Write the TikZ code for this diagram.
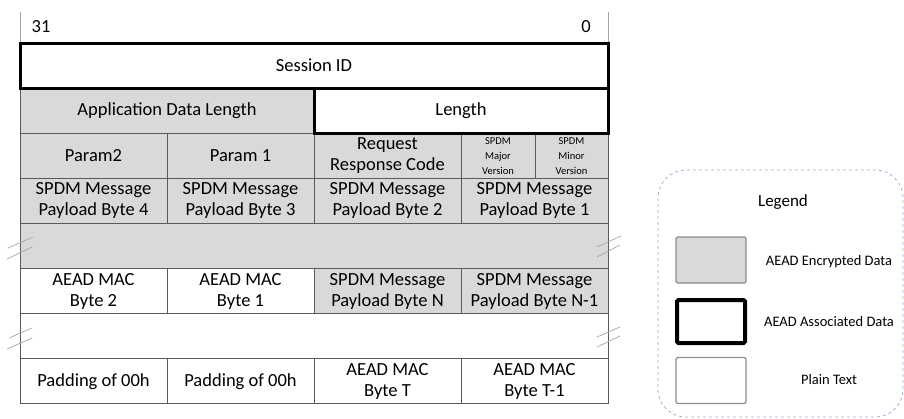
\documentclass[tikz,border=0pt]{standalone}
\usepackage{fontspec}
\setmainfont{Carlito}
\usetikzlibrary{positioning}
\definecolor{encgray}{HTML}{D9D9D9}
\definecolor{cellline}{HTML}{5A5A5A}
\definecolor{breakline}{HTML}{A6A6A6}
\definecolor{keyline}{HTML}{8C8C8C}
\definecolor{legendline}{HTML}{9DB0CF}
\tikzset{every node/.style={font=\fontsize{18.5}{21}\selectfont},
  cell/.style={draw=cellline,line width=1pt,minimum height=45.1pt,minimum width=147pt,inner sep=0pt,align=center},
  enc/.style={cell,fill=encgray},
  assoc/.style={cell,draw=black,line width=3pt},
  tiny/.style={font=\fontsize{10.5}{15}\selectfont},
  breakmark/.style={draw=breakline,line width=.7pt},
  keybox/.style={draw=keyline,line width=1.2pt,minimum width=70pt,minimum height=46pt,inner sep=0pt,rounded corners=1.5pt},
  keytext/.style={font=\fontsize{14.5}{16}\selectfont}}

\begin{document}
\begin{tikzpicture}[x=1pt,y=-1pt]
\useasboundingbox (0,0) rectangle (904,418);
% bit numbers
\draw[breakline,line width=.6pt] (20,12)--(20,43);\draw[breakline,line width=.6pt] (608,12)--(608,43);
\node (msb) at (41,27) {31};\node (lsb) at (586,27) {0};
% header
\node[enc,minimum width=294pt] (adl) at (167,110.69) {Application Data Length};
\node[enc] (p2) at (93.5,155.81) {Param2};
\node[enc] (p1) at (240.5,155.81) {Param 1};
\node[enc] (rrc) at (387.5,155.81) {Request\\Response Code};
\node[enc,tiny,minimum width=74pt] (maj) at (498,155.81) {SPDM\\Major\\Version};
\node[enc,tiny,minimum width=73pt] (mnr) at (571.5,155.81) {SPDM\\Minor\\Version};
% payload
\node[enc] (pb4) at (93.5,200.94) {SPDM Message\\Payload Byte 4};
\node[enc] (pb3) at (240.5,200.94) {SPDM Message\\Payload Byte 3};
\node[enc] (pb2) at (387.5,200.94) {SPDM Message\\Payload Byte 2};
\node[enc] (pb1) at (534.5,200.94) {SPDM Message\\Payload Byte 1};
\node[enc,minimum width=588pt] (gapa) at (314,246.06) {};
\node[cell] (mac2) at (93.5,291.19) {AEAD MAC\\Byte 2};
\node[cell] (mac1) at (240.5,291.19) {AEAD MAC\\Byte 1};
\node[enc] (pbn) at (387.5,291.19) {SPDM Message\\Payload Byte N};
\node[enc] (pbnm) at (534.5,291.19) {SPDM Message\\Payload Byte N-1};
\node[cell,minimum width=588pt] (gapb) at (314,336.31) {};
\node[cell] (pad2) at (93.5,381.44) {Padding of 00h};
\node[cell] (pad1) at (240.5,381.44) {Padding of 00h};
\node[cell] (mact) at (387.5,381.44) {AEAD MAC\\Byte T};
\node[cell] (mactm) at (534.5,381.44) {AEAD MAC\\Byte T-1};
% associated data on top
\node[assoc,minimum width=294pt] (len) at (461,110.69) {Length};
\node[assoc,minimum width=588pt] (sid) at (314,65.56) {Session ID};
% break marks
\draw[breakmark] (8,248)--(33,237) (7,259)--(32,247);
\draw[breakmark] (597,247)--(621,236) (597,257)--(620,245);
\draw[breakmark] (9,338)--(32,328) (7,349)--(32,338);
\draw[breakmark] (597,337)--(620,327) (597,347)--(620,336);
% legend
\draw[legendline,dashed,line width=.8pt,rounded corners=28pt] (658,170) rectangle (903,417);
\node[font=\fontsize{17}{19}\selectfont] (legtitle) at (783,202) {Legend};
\node[keybox,fill=encgray] (keyenc) at (711,260) {};
\node[keybox,draw=black,line width=4pt,minimum width=68pt,minimum height=43pt] (keyassoc) at (711,321.5) {};
\node[keybox] (keyplain) at (711,380.5) {};
\node[keytext] (lblenc) at (829,262) {AEAD Encrypted Data};
\node[keytext] (lblassoc) at (829,322) {AEAD Associated Data};
\node[keytext] (lblplain) at (829,380) {Plain Text};
\end{tikzpicture}
\end{document}
